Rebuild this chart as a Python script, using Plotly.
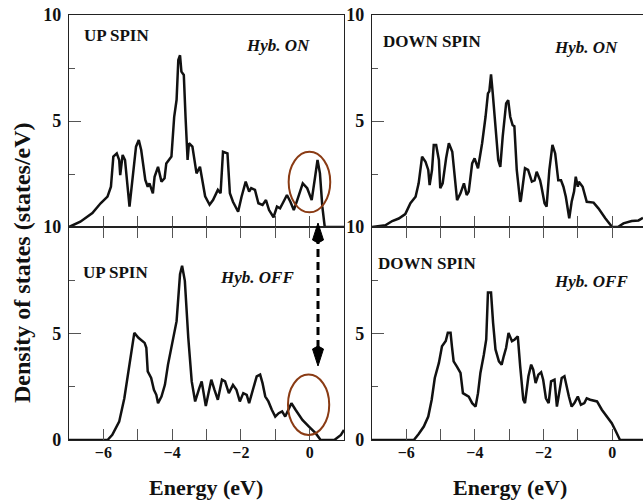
import plotly.graph_objects as go

# ---------------- data ----------------
up_on_e = [-7.0, -6.67, -6.32, -6.08, -5.88, -5.78, -5.71, -5.61, -5.54, -5.51, -5.44, -5.37, -5.24, -5.05,
           -4.97, -4.90, -4.78, -4.71, -4.66, -4.56, -4.51, -4.41, -4.31, -4.22, -4.17, -4.02, -3.94, -3.87,
           -3.82, -3.77, -3.73, -3.66, -3.61, -3.55, -3.51, -3.41, -3.29, -3.19, -3.04, -2.91, -2.81, -2.67,
           -2.59, -2.52, -2.39, -2.32, -2.23, -2.08, -1.98, -1.86, -1.76, -1.70, -1.59, -1.49, -1.37, -1.27,
           -1.18, -1.05, -0.95, -0.86, -0.76, -0.66, -0.56, -0.46, -0.36, -0.20, -0.07, 0.06, 0.16, 0.23,
           0.30, 0.37, 0.44, 1.0]
up_on_dos = [0, 0.25, 0.66, 1.12, 1.43, 1.9, 3.32, 3.47, 3.16, 2.45, 3.40, 3.16, 0.96, 3.79,
             4.1, 3.63, 2.22, 1.9, 2.06, 1.59, 2.37, 2.84, 2.14, 2.3, 3.0, 3.32, 5.2, 6.0,
             7.88, 8.1, 7.33, 7.17, 5.2, 3.16, 3.95, 3.79, 2.53, 2.84, 1.45, 1.05, 1.27, 1.75,
             1.59, 3.55, 3.47, 1.59, 1.19, 0.72, 1.43, 2.14, 1.67, 1.83, 1.75, 1.12, 1.04, 1.27,
             0.80, 0.46, 0.96, 0.88, 1.19, 1.51, 1.19, 0.8, 1.27, 2.06, 1.83, 1.27, 2.37, 3.16,
             2.53, 0.96, 0, 0]

up_off_e = [-7.0, -5.88, -5.74, -5.54, -5.39, -5.24, -5.10, -4.98, -4.93, -4.80, -4.75, -4.71, -4.61,
            -4.53, -4.46, -4.41, -4.31, -4.21, -4.12, -3.97, -3.87, -3.77, -3.71, -3.63, -3.53, -3.43,
            -3.33, -3.21, -3.14, -3.02, -2.86, -2.77, -2.67, -2.55, -2.46, -2.35, -2.23, -2.13, -2.03,
            -1.93, -1.83, -1.76, -1.68, -1.54, -1.44, -1.37, -1.29, -1.20, -1.10, -1.00, -0.90, -0.80,
            -0.71, -0.61, -0.53, -0.41, -0.21, -0.02, 0.18, 0.32, 0.72, 0.91, 1.0]
up_off_dos = [0, 0, 0.24, 0.86, 1.96, 3.54, 5.03, 4.8, 4.72, 4.56, 4.33, 3.22, 2.91,
              2.36, 2.12, 1.73, 2.04, 2.59, 3.54, 4.80, 5.58, 7.78, 8.18, 7.47, 4.8, 2.75,
              1.81, 2.44, 2.75, 1.6, 2.83, 2.36, 1.89, 2.83, 2.75, 2.2, 2.59, 2.36, 1.81,
              2.2, 2.12, 1.73, 2.2, 2.99, 3.07, 2.67, 2.04, 1.81, 1.42, 1.10, 1.26, 1.34,
              1.10, 1.42, 1.73, 1.42, 0.94, 0.63, 0.31, 0, 0, 0.24, 0.47]

down_on_e = [-7.0, -6.61, -6.41, -6.22, -6.03, -5.88, -5.73, -5.64, -5.54, -5.44, -5.36, -5.32, -5.25,
             -5.20, -5.13, -5.05, -5.01, -4.94, -4.84, -4.76, -4.66, -4.59, -4.52, -4.42, -4.32, -4.24,
             -4.18, -4.08, -4.01, -3.91, -3.79, -3.69, -3.62, -3.58, -3.53, -3.48, -3.40, -3.32, -3.26,
             -3.19, -3.09, -3.03, -2.97, -2.90, -2.85, -2.78, -2.68, -2.66, -2.54, -2.45, -2.34, -2.26,
             -2.20, -2.10, -2.06, -1.97, -1.91, -1.83, -1.74, -1.66, -1.57, -1.49, -1.42, -1.35, -1.25,
             -1.18, -1.11, -1.06, -1.00, -0.97, -0.86, -0.74, -0.54, -0.40, -0.20, 0.0, 0.17, 0.33,
             0.57, 0.77, 0.90]
down_on_dos = [0, 0.08, 0.28, 0.4, 0.61, 1.12, 1.43, 2.06, 3.32, 3.08, 2.69, 1.98, 2.69,
               3.87, 3.87, 3.16, 1.83, 2.06, 3.24, 3.95, 3.55, 2.37, 1.27, 1.59, 2.06, 1.51,
               1.67, 3.0, 3.24, 2.77, 3.95, 5.2, 6.3, 6.4, 7.2, 6.3, 4.73, 3.16, 2.84,
               4.26, 5.83, 5.98, 5.2, 4.8, 4.75, 2.69, 1.19, 1.27, 2.77, 2.69, 2.14, 2.2,
               2.61, 2.2, 1.9, 1.12, 0.96, 2.69, 3.87, 3.47, 2.2, 2.2, 1.9, 1.43, 0.41,
               1.19, 1.67, 2.37, 1.9, 2.14, 1.9, 1.19, 1.15, 0.88, 0.41, 0, 0, 0.17,
               0.28, 0.31, 0.43]

down_off_e = [-7.0, -5.78, -5.64, -5.49, -5.36, -5.26, -5.17, -5.05, -4.96, -4.88, -4.85, -4.79, -4.71,
              -4.67, -4.62, -4.52, -4.42, -4.35, -4.28, -4.18, -4.08, -3.98, -3.91, -3.84, -3.74, -3.67,
              -3.62, -3.53, -3.47, -3.40, -3.30, -3.22, -3.16, -3.09, -3.02, -2.92, -2.84, -2.75, -2.68,
              -2.59, -2.54, -2.44, -2.36, -2.30, -2.23, -2.15, -2.07, -2.01, -1.93, -1.85, -1.78, -1.68,
              -1.61, -1.55, -1.47, -1.39, -1.33, -1.26, -1.18, -1.10, -1.00, -0.91, -0.81, -0.74, -0.64,
              -0.54, -0.44, -0.30, -0.15, -0.01, 0.09, 0.23, 0.90]
down_off_dos = [0, 0, 0.28, 0.63, 1.10, 1.89, 2.91, 3.62, 4.40, 4.6, 4.65, 5.03, 5.03,
                4.4, 3.69, 3.43, 3.15, 2.2, 2.12, 2.04, 1.73, 1.57, 2.2, 3.15, 4.0, 4.72,
                6.92, 6.92, 5.5, 4.25, 3.69, 3.54, 3.93, 4.33, 5.03, 4.64, 4.72, 4.87, 3.46,
                1.89, 1.73, 2.99, 3.54, 3.30, 2.67, 3.07, 3.18, 2.83, 1.96, 1.73, 2.75, 2.83,
                1.57, 2.2, 2.91, 2.99, 2.52, 2.04, 1.57, 1.73, 2.04, 1.65, 1.73, 1.96, 1.89,
                1.84, 1.81, 1.42, 1.10, 0.79, 0.47, 0, 0]

x_tickvals = [-7, -6, -5, -4, -3, -2, -1, 0, 1]
x_ticktext = ["", "\u22126", "", "\u22124", "", "\u22122", "", "0", ""]
y_tickvals = [0, 5, 10]
y_ticktext_top = ["", "5", "10"]      # the "0" of the upper panels coincides with the lower "10"
y_ticktext_bottom = ["0", "5", "10"]
y_minor = [2.5, 7.5]

# ---------------- figure ----------------
W, H = 643, 502
FONT = "Liberation Serif"
LINE = "#111111"
AX = "#222222"
TICK = "#555555"
BROWN = "#8a3b14"

def px_x(p):
    return p / W

def px_y(p):
    return (H - p) / H

fig = go.Figure()
panels = [
    (up_on_e, up_on_dos, "x", "y"),
    (down_on_e, down_on_dos, "x2", "y2"),
    (up_off_e, up_off_dos, "x3", "y3"),
    (down_off_e, down_off_dos, "x4", "y4"),
]
for e, d, xa, ya in panels:
    fig.add_trace(go.Scatter(x=e, y=d, mode="lines", xaxis=xa, yaxis=ya,
                             line=dict(color=LINE, width=2.5), showlegend=False, hoverinfo="skip"))

left_dom = [px_x(69), px_x(344)]
right_dom = [px_x(372), 1.0]
top_dom = [px_y(227), px_y(15)]
bot_dom = [px_y(440), px_y(227)]

def xaxis(dom, anchor, rng, labels, mirror):
    return dict(domain=dom, anchor=anchor, range=rng, tickvals=x_tickvals,
                ticktext=x_ticktext if labels else [""] * len(x_tickvals),
                showticklabels=labels, ticks="inside", ticklen=11, tickwidth=1.3, tickcolor=TICK,
                showline=True, linecolor=AX, linewidth=1.3, mirror=mirror, showgrid=False,
                zeroline=False, automargin=False,
                tickfont=dict(family=FONT, size=16, color="#111", weight="bold"),
                ticklabelstandoff=-2)

def yaxis(dom, anchor, mirror, ticktext):
    return dict(domain=dom, anchor=anchor, range=[0, 10], tickvals=y_tickvals, ticktext=ticktext,
                ticks="inside", ticklen=12, tickwidth=1.3, tickcolor=TICK,
                minor=dict(tickvals=y_minor, ticks="inside", ticklen=6, tickwidth=1.3, tickcolor=TICK),
                showline=True, linecolor=AX, linewidth=1.3, mirror=mirror, showgrid=False,
                zeroline=False, automargin=False,
                tickfont=dict(family=FONT, size=18, color="#111", weight="bold"),
                ticklabelstandoff=3)

fig.update_layout(
    width=W, height=H, margin=dict(l=0, r=0, t=0, b=0, autoexpand=False),
    paper_bgcolor="white", plot_bgcolor="white",
    xaxis=xaxis(left_dom, "y", [-7, 1], False, True),
    yaxis=yaxis(top_dom, "x", True, y_ticktext_top),
    xaxis2=xaxis(right_dom, "y2", [-7, 0.9], False, True),
    yaxis2=yaxis(top_dom, "x2", False, y_ticktext_top),
    xaxis3=xaxis(left_dom, "y3", [-7, 1], True, "ticks"),
    yaxis3=yaxis(bot_dom, "x3", True, y_ticktext_bottom),
    xaxis4=xaxis(right_dom, "y4", [-7, 0.9], True, "ticks"),
    yaxis4=yaxis(bot_dom, "x4", False, y_ticktext_bottom),
)

def label(text, x, y, size=17, xanchor="left"):
    fig.add_annotation(text=text, x=px_x(x), y=px_y(y), xref="paper", yref="paper",
                       xanchor=xanchor, yanchor="middle", showarrow=False,
                       font=dict(family=FONT, size=size, color="#111"))

label("<b>UP SPIN</b>", 82, 35)
label("<b><i>Hyb. ON</i></b>", 244, 45)
label("<b>DOWN SPIN</b>", 381, 41)
label("<b><i>Hyb. ON</i></b>", 552, 47)
label("<b>UP SPIN</b>", 81, 272)
label("<b><i>Hyb. OFF</i></b>", 218, 277)
label("<b>DOWN SPIN</b>", 376, 263)
label("<b><i>Hyb. OFF</i></b>", 552, 281)

label("<b>Energy (eV)</b>", 206, 487, size=22, xanchor="center")
label("<b>Energy (eV)</b>", 510, 487, size=22, xanchor="center")
fig.add_annotation(text="<b>Density of states (states/eV)</b>", x=px_x(22), y=px_y(263),
                   xref="paper", yref="paper", textangle=-90, showarrow=False,
                   xanchor="center", yanchor="middle",
                   font=dict(family=FONT, size=24, color="#111"))

# highlight ellipses near the Fermi level
fig.add_shape(type="circle", xref="x", yref="y", x0=-0.61, x1=0.60, y0=0.69, y1=3.55,
              line=dict(color=BROWN, width=2))
fig.add_shape(type="circle", xref="x3", yref="y3", x0=-0.63, x1=0.57, y0=0.24, y1=3.07,
              line=dict(color=BROWN, width=2))

# dashed double-headed arrow between the panels
ax_x = 318
fig.add_shape(type="line", xref="paper", yref="paper", x0=px_x(ax_x), x1=px_x(ax_x),
              y0=px_y(236), y1=px_y(352), line=dict(color="black", width=3, dash="8px,5px"))
def tri(tip, base):
    return (f"M {px_x(ax_x)} {px_y(tip)} L {px_x(ax_x - 5.5)} {px_y(base)} "
            f"L {px_x(ax_x)} {px_y(base + (3 if base > tip else -3))} "
            f"L {px_x(ax_x + 5.5)} {px_y(base)} Z")
fig.add_shape(type="path", xref="paper", yref="paper", path=tri(223, 240),
              fillcolor="black", line=dict(color="black", width=1))
fig.add_shape(type="path", xref="paper", yref="paper", path=tri(366, 349),
              fillcolor="black", line=dict(color="black", width=1))

fig.write_html("out.html")
